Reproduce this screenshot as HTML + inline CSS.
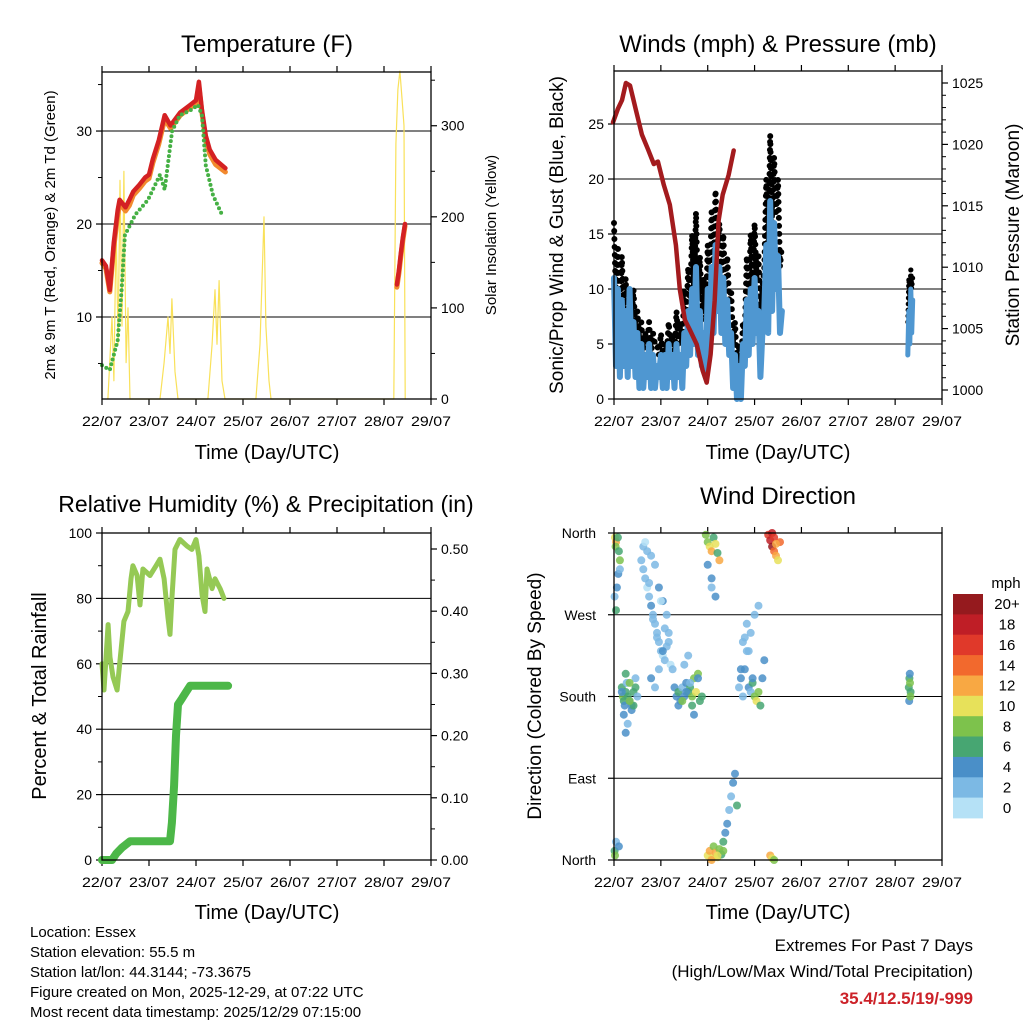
<!DOCTYPE html>
<html><head><meta charset="utf-8"><style>
html,body{margin:0;padding:0;background:#fff;}
svg{display:block;font-family:"Liberation Sans",Arial,sans-serif;}
</style></head><body>
<svg id="s" width="1024" height="1024" viewBox="0 0 1024 1024" xmlns="http://www.w3.org/2000/svg"></svg>
<script>
// ---------- DATA ----------
const dayLabels = ["22/07","23/07","24/07","25/07","26/07","27/07","28/07","29/07"];
const tempTicks = [10,20,30];
const solarTicks = [0,100,200,300];
const windTicks = [0,5,10,15,20,25];
const pressTicks = [1000,1005,1010,1015,1020,1025];
const rhTicks = [0,20,40,60,80,100];
const rainTicks = [0.00,0.10,0.20,0.30,0.40,0.50];
const dirLabels = ["North","East","South","West","North"];
const dirTicks = [0,90,180,270,360];
const cbLabels = ["0","2","4","6","8","10","12","14","16","18","20+"];
const cbColors = ["#b5e1f6","#7cb9e4","#4a8fc8","#47a672","#7dc24c","#e7e15a","#f8a843","#f2692d","#e0392a","#bf1e26","#951a1e"];

// Temperature (hours from 22/07 00 UTC)
const tHours = [0,2,4,6,8,9,12,14,16,19,22,24,26,29,32,35,40,45,48,49.5,51,53,55,58,63];
const tRed   = [16.1,15.5,12.9,18,21.5,22.6,21.8,22.6,23.5,24.2,25,25.3,27,29,31.7,30.6,32,32.8,33.3,35.3,32.3,29.5,28,26.9,26];
const tOrange= [15.8,15.2,12.7,17.5,21,22.2,21.4,22.0,23.1,23.8,24.6,24.9,26.6,28.6,31.3,30.3,31.7,32.5,33.0,34.8,32.0,29,27.5,26.4,25.6];
const tHours2 = [150.6,151.6,152.6,153.6,154.7];
const tRed2 = [13.5,15,16.8,18.5,20];
const tOrange2 = [13.2,14.7,16.5,18.2,19.8];
const tdHours = [0,4,8,10,11.7,17,23.5,29.6,32,35.8,39.8,44.9,49,51,53,56.7,61.3];
const tdValues = [4.8,4.3,7.5,12.9,18.8,21,22.6,25.3,23.7,30,31.7,32.2,32.8,31.7,26.3,23.1,21];
// Solar insolation
const solHours = [3,5.1,6.1,7.2,8.2,9.2,10.2,11.2,12.3,13.3,14.3, 29.6,31.7,33.7,34.7,35.7,37.3,38.8, 54.1,56.2,57.7,58.7,59.8,61.3,62.8, 78.6,80.7,82.7,83.7,85.3,86.3, 149,150.1,151.1,152.1,153.2,154.2,154.8];
const solValues = [0,90,20,190,60,240,80,250,40,100,0, 0,40,90,50,110,30,0, 0,60,120,60,130,20,0, 0,60,200,80,20,0, 0,280,340,360,330,300,0];

// Winds
const windHours = [];
for (let h = 0; h <= 86; h++) windHours.push(h);
const windValues = [11,3,10,2,9,3,8,2,10,3,7,2,6,
 1,5,1,4,2,5,1,4,1,3,2,4,1,4,1,5,2,4,1,5,2,4,1,
 6,3,8,4,10,5,12,4,8,3,6,2,10,5,12,6,14,8,12,6,11,5,9,4,
 6,1,4,0,3,0,5,
 3,9,4,10,5,11,6,8,2,6,
 8,14,6,18,8,16,10,13,6,8];
const gustValues = [16,9,14,6,13,8,11,5,9,7,10,6,8,
 5,7,4,6,5,7,4,6,5,5,4,6,4,5,4,7,5,6,4,8,5,7,5,
 10,7,12,9,15,10,17,9,13,8,11,7,14,10,17,12,19,14,16,11,15,10,13,9,
 10,5,7,3,5,2,7,
 6,13,9,15,10,16,11,13,7,10,
 12,20,13,24,16,22,17,20,12,14];
const wind2Hours = [150.5,151,151.5,152,152.5,153];
const wind2Values = [4,8,5,10,6,9];
const gust2Values = [7,11,9,12,10,11];
const pressHours = [-0.5,2,4.1,6.1,8.2,11.2,14.3,17.4,20.4,22.5,25.5,28.6,31.7,33.7,36.3,38.8,42.4,45.4,47.5,49.5,51.6,53.6,55.7,58.7,61.3];
const pressValues = [1021.8,1022.9,1023.6,1025,1024.8,1022.8,1020.8,1019.6,1018.4,1018.6,1016.7,1015.1,1011.8,1008.2,1005.7,1004.9,1003.7,1001.6,1000.6,1002.9,1007.3,1013.8,1015.9,1017.5,1019.5];

// Relative humidity & precip
const rhHours = [0,1,3.1,4.1,5.6,7.7,9.2,11.2,13.3,14.8,15.8,17.9,19.4,20.9,24.5,27.6,29.6,31.7,33.7,34.7,35.7,37.3,39.8,43.4,45.9,48,49.5,51.1,52.6,53.6,56.2,57.7,60.3,62.3];
const rhValues = [60,52,72,62,56,52,61,73,76,86,90,87,78,89,87,90,92,86,74,69,80,95,98,96,95,98,93,81,76,89,83,86,83,80];
const rainHours = [0,5.1,7.2,10.2,14.3,34.7,35.7,36.8,37.8,38.8,40.9,42.9,45,64.4];
const rainValues = [0,0,0.01,0.02,0.03,0.03,0.06,0.12,0.2,0.25,0.26,0.27,0.28,0.28];

// Wind direction scatter
const dirHours = [0.5,1,0.8,2,2.5,3,2.2,1.5,0.3,1,3, 0.3,1,0.5,2.5,
 4,4.5,5,5.5,6,6.5,7,8,9,10,11,12,5,7,9,11,6,8,10,4,6,8,
 14,15,16,17,18,19,20,21,22,23,24,25,26,27,28,29,30,15,17,19,21,23,25,27,16,18,20,22,24,26,28,19,21,23,25,
 31,32,33,34,35,36,37,38,39,40,41,42,43,44,45,33,35,37,39,41,43,36,38,40,
 47,48,49,50,51,52,53,54,48,50,52,50,
 48,49,50,51,52,53,54,55,56,57,58,59,60,61,62,63,50,53,56,
 64,65,66,67,68,69,70,71,72,73,74,75,76,77,66,68,70,72,74,65,67,69,71,
 79,80,81,82,83,84,85,81,82,83,80,81,82,
 151,151.3,151.6,151.9,151.2,151.5,151.8];
const dirDeg = [355,350,345,355,340,330,315,300,290,275,320, 10,20,5,15,
 190,180,175,170,185,195,180,175,170,185,190,180,160,150,165,200,205,195,170,185,140,175,
 330,320,310,300,290,280,270,260,250,240,230,225,220,235,250,215,210,345,340,335,325,300,285,270,350,305,265,245,285,255,240,200,190,210,230,
 190,180,185,175,190,180,195,185,190,180,200,185,205,175,180,170,175,185,195,160,200,215,225,170,
 358,350,345,340,355,348,338,330,325,300,290,310,
 5,10,2,15,8,3,12,6,20,30,40,55,70,85,95,60,0,5,10,
 190,200,180,210,230,190,185,195,180,175,185,170,200,220,240,260,250,270,280,210,245,230,200,
 358,352,345,340,335,330,350,360,355,348,5,2,0,
 190,200,195,185,175,205,180];
const dirSpeed = [11,12,9,7,6,8,5,4,3,6,3, 6,3,8,4,
 6,8,6,4,7,3,6,5,4,7,6,3,4,3,5,2,7,8,6,5,4,8,
 2,3,2,1,2,4,3,2,3,2,3,1,2,3,2,1,2,3,2,3,2,4,4,2,1,2,3,2,1,2,3,4,2,3,4,
 4,5,6,4,3,5,4,6,7,8,9,10,8,7,6,5,9,4,3,5,4,3,2,6,
 9,8,10,12,7,11,6,12,4,3,4,5,
 10,12,11,9,12,10,8,7,6,5,4,3,3,4,5,6,13,11,9,
 3,4,3,4,3,4,3,7,9,11,8,6,5,4,3,2,3,2,3,4,2,3,4,
 16,18,20,14,12,10,15,19,17,13,12,10,8,
 6,7,8,6,4,5,8];

// ---------- HELPERS ----------
const S = document.getElementById('s');
const NS = 'http://www.w3.org/2000/svg';
function mk(tag, attrs, parent) {
  const e = document.createElementNS(NS, tag);
  for (const k in attrs) e.setAttribute(k, attrs[k]);
  (parent || S).appendChild(e);
  return e;
}
function txt(str, x, y, size, anchor, parent, extra) {
  const e = mk('text', Object.assign({x:x, y:y, 'font-size':size, 'text-anchor':anchor||'middle', fill:'#000'}, extra||{}), parent);
  e.textContent = str;
  return e;
}
function linear(d0,d1,r0,r1){ return v => r0 + (v-d0)/(d1-d0)*(r1-r0); }

function frame(g, L, T, R, B) {
  const fr = mk('rect', {x:L, y:T, width:R-L, height:B-T, fill:'none', stroke:'#000', 'stroke-width':1.3}, g);
  
  
}
function xAxis(g, L, R, T, B, xs) {
  const ax = mk('g', {}, g);
  
  
  dayLabels.forEach((lab, i) => {
    const x = xs(i*24);
    mk('line', {x1:x, y1:B, x2:x, y2:B+6, stroke:'#000', 'stroke-width':1.2}, ax);
    mk('line', {x1:x, y1:T, x2:x, y2:T-6, stroke:'#000', 'stroke-width':1.2}, ax);
    const t = txt(lab, x, B+27, 14, 'middle', ax, {textLength:40, lengthAdjust:'spacingAndGlyphs'});
    
    
  });
}
function yAxisLeft(g, ticks, ys, L, R, fmt, grid, minor) {
  const ax = mk('g', {}, g);
  
  
  ticks.forEach(v => {
    const y = ys(v);
    mk('line', {x1:L-6, y1:y, x2:L, y2:y, stroke:'#000', 'stroke-width':1.2}, ax);
    if (grid) mk('line', {x1:L, y1:y, x2:R, y2:y, stroke:'#000', 'stroke-width':1}, ax);
    const t = txt(fmt(v), L-10, y+5, 14, 'end', ax);
    
    
  });
  if (minor) minor.forEach(v => mk('line', {x1:L-4, y1:ys(v), x2:L, y2:ys(v), stroke:'#000', 'stroke-width':1}, ax));
}
function yAxisRight(g, ticks, ys, R, fmt, minor) {
  const ax = mk('g', {}, g);
  
  
  ticks.forEach(v => {
    const y = ys(v);
    mk('line', {x1:R, y1:y, x2:R+6, y2:y, stroke:'#000', 'stroke-width':1.2}, ax);
    const t = txt(fmt(v), R+10, y+5, 14, 'start', ax);
    
    
  });
  if (minor) minor.forEach(v => mk('line', {x1:R, y1:ys(v), x2:R+4, y2:ys(v), stroke:'#000', 'stroke-width':1}, ax));
}
function pts(hs, vs, xs, ys) { return hs.map((h,i) => xs(h).toFixed(1)+','+ys(vs[i]).toFixed(1)).join(' '); }
function poly(g, p, attrs) { return mk('polyline', Object.assign({points:p, fill:'none', 'stroke-linejoin':'round', 'stroke-linecap':'round'}, attrs), g); }
function rotText(str, x, y, size, parent) {
  return txt(str, x, y, size, 'middle', parent, {transform:'rotate(-90 '+x+' '+y+')'});
}

// ---------- PANEL 1: TEMPERATURE ----------
{
  const L=102, R=431, T=72, B=399;
  const g = mk('g', {});
  
  
  const xs = linear(0, 168, L, R);
  const ys = linear(1.18, 36.35, B, T);
  const ysol = linear(0, 359, B, T);
  let t = txt('Temperature (F)', 267, 52, 24, 'middle', g);
  
  
  yAxisLeft(g, tempTicks, ys, L, R, v => String(v), true, [5,15,25,35]);
  yAxisRight(g, solarTicks, ysol, R, v => String(v), [50,150,250,350]);
  xAxis(g, L, R, T, B, xs);
  const sol = poly(g, pts(solHours, solValues, xs, ysol), {stroke:'#f9e15a', 'stroke-width':1.2});
  
  
  const o1 = poly(g, pts(tHours, tOrange, xs, ys), {stroke:'#f28a2e', 'stroke-width':5});
  
  
  const o2 = poly(g, pts(tHours2, tOrange2, xs, ys), {stroke:'#f28a2e', 'stroke-width':5});
  
  
  const r1 = poly(g, pts(tHours, tRed, xs, ys), {stroke:'#d42123', 'stroke-width':4.5});
  
  
  const r2 = poly(g, pts(tHours2, tRed2, xs, ys), {stroke:'#d42123', 'stroke-width':4.5});
  
  
  const td = poly(g, pts(tdHours, tdValues, xs, ys), {stroke:'#45b044', 'stroke-width':4, 'stroke-dasharray':'0 5'});
  
  
  frame(g, L, T, R, B);
  t = rotText('2m & 9m T (Red, Orange) & 2m Td (Green)', 55, 235, 15, g);
  
  
  t = rotText('Solar Insolation (Yellow)', 496, 235, 15, g);
  
  
  t = txt('Time (Day/UTC)', 267, 459, 20, 'middle', g);
  
  
}

// ---------- PANEL 2: WINDS & PRESSURE ----------
{
  const L=614, R=942, T=71, B=399;
  const g = mk('g', {});
  
  
  const xs = linear(0, 168, L, R);
  const ys = linear(0, 29.82, B, T);
  const yp = linear(1000, 1025, 390, 83);
  let t = txt('Winds (mph) & Pressure (mb)', 778, 52, 24, 'middle', g);
  
  
  yAxisLeft(g, windTicks, ys, L, R, v => String(v), true, null);
  yAxisRight(g, pressTicks, yp, R, v => String(v), [1001,1002,1003,1004,1006,1007,1008,1009,1011,1012,1013,1014,1016,1017,1018,1019,1021,1022,1023,1024]);
  xAxis(g, L, R, T, B, xs);
  const gst = poly(g, pts(windHours, gustValues, xs, ys), {stroke:'#000', 'stroke-width':6, 'stroke-dasharray':'0 8'});
  
  
  const gst2 = poly(g, pts(wind2Hours, gust2Values, xs, ys), {stroke:'#000', 'stroke-width':5, 'stroke-dasharray':'0 6'});
  
  
  const w = poly(g, pts(windHours, windValues, xs, ys), {stroke:'#4f97d1', 'stroke-width':6});
  
  
  const w2 = poly(g, pts(wind2Hours, wind2Values, xs, ys), {stroke:'#4f97d1', 'stroke-width':5});
  
  
  const p = poly(g, pts(pressHours, pressValues, xs, yp), {stroke:'#a31b1e', 'stroke-width':4.5});
  
  
  frame(g, L, T, R, B);
  t = rotText('Sonic/Prop Wind & Gust (Blue, Black)', 563, 235, 19, g);
  
  
  t = rotText('Station Pressure (Maroon)', 1019, 235, 19, g);
  
  
  t = txt('Time (Day/UTC)', 778, 459, 20, 'middle', g);
  
  
}

// ---------- PANEL 3: RH & PRECIP ----------
{
  const L=102, R=431, T=533, B=860;
  const g = mk('g', {});
  
  
  const xs = linear(0, 168, L, R);
  const ys = linear(0, 100, B, T);
  const yr = linear(0, 0.5, B, 549);
  let t = txt('Relative Humidity (%) & Precipitation (in)', 266, 512, 23, 'middle', g);
  
  
  yAxisLeft(g, rhTicks, ys, L, R, v => String(v), true, [10,30,50,70,90]);
  yAxisRight(g, rainTicks, yr, R, v => v.toFixed(2), [0.05,0.15,0.25,0.35,0.45]);
  xAxis(g, L, R, T, B, xs);
  const rn = poly(g, pts(rainHours, rainValues, xs, yr), {stroke:'#4cb748', 'stroke-width':8});
  
  
  const rh = poly(g, pts(rhHours, rhValues, xs, ys), {stroke:'#95c955', 'stroke-width':5});
  
  
  frame(g, L, T, R, B);
  t = rotText('Percent & Total Rainfall', 46, 696, 20, g);
  
  
  t = txt('Time (Day/UTC)', 267, 919, 20, 'middle', g);
  
  
}

// ---------- PANEL 4: WIND DIRECTION ----------
{
  const L=614, R=942, T=533, B=860;
  const g = mk('g', {});
  
  
  const xs = linear(0, 168, L, R);
  const ys = linear(0, 360, B, T);
  let t = txt('Wind Direction', 778, 504, 24, 'middle', g);
  
  
  const ax = mk('g', {}, g);
  
  
  dirTicks.forEach((v,i) => {
    const y = ys(v);
    mk('line', {x1:L-6, y1:y, x2:L, y2:y, stroke:'#000', 'stroke-width':1.2}, ax);
    mk('line', {x1:L, y1:y, x2:R, y2:y, stroke:'#000', 'stroke-width':1}, ax);
    const tl = txt(dirLabels[i], L-18, y+5, 14, 'end', ax);
    
    
  });
  xAxis(g, L, R, T, B, xs);
  const cs = mk('g', {}, g);
  
  
  dirHours.forEach((h,i) => {
    const bin = Math.min(10, Math.floor(dirSpeed[i]/2));
    const c = mk('circle', {cx:xs(h).toFixed(1), cy:ys(dirDeg[i]).toFixed(1), r:4, fill:cbColors[bin], 'fill-opacity':0.85}, cs);
    
    
  });
  frame(g, L, T, R, B);
  t = rotText('Direction (Colored By Speed)', 541, 696, 19, g);
  
  
  t = txt('Time (Day/UTC)', 778, 919, 20, 'middle', g);
  
  
  // colorbar
  const cb = mk('g', {}, g);
  
  
  const cbTop = 594, cbH = 224/11;
  t = txt('mph', 1006, 588, 15, 'middle', cb);
  
  
  cbLabels.forEach((lab, i) => {
    const idx = 10 - i;
    const y = cbTop + i*cbH;
    const r = mk('rect', {x:953, y:y.toFixed(1), width:30, height:(cbH+0.4).toFixed(1), fill:cbColors[idx]}, cb);
    
    
    const tl = txt(cbLabels[idx], 1007, y + cbH/2 + 5, 15, 'middle', cb);
    
    
  });
}

// ---------- FOOTER ----------
{
  const g = mk('g', {});
  
  
  const lines = ["Location: Essex","Station elevation: 55.5 m","Station lat/lon: 44.3144; -73.3675","Figure created on Mon, 2025-12-29, at 07:22 UTC","Most recent data timestamp: 2025/12/29 07:15:00"];
  lines.forEach((s,i) => {
    const t = txt(s, 30, 937 + i*20, 15, 'start', g);
    
    
  });
  const g2 = mk('g', {});
  
  
  let t = txt('Extremes For Past 7 Days', 973, 951, 17, 'end', g2);
  
  
  t = txt('(High/Low/Max Wind/Total Precipitation)', 973, 977, 17, 'end', g2);
  
  
  t = txt('35.4/12.5/19/-999', 973, 1004, 17, 'end', g2, {fill:'#cc2229', 'font-weight':'bold'});
  
  
}
</script>
</body></html>
